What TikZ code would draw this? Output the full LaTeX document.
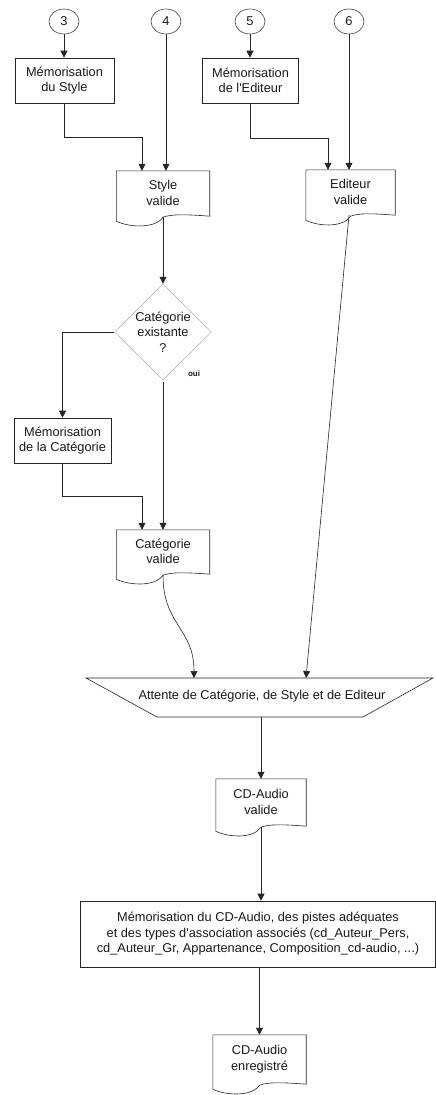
\documentclass[tikz,border=0pt]{standalone}
\usepackage{fontspec}
\setmainfont{Liberation Sans}
\usetikzlibrary{shapes.geometric,arrows.meta,calc}
\newcommand{\docframe}[1]{%
  \draw[line] ([yshift=-6pt]#1.south west) -- (#1.north west) -- (#1.north east) -- ([yshift=-1pt]#1.south east)
    .. controls ([xshift=-25pt,yshift=1pt]#1.south east) and ([xshift=8pt,yshift=1pt]#1.south) .. ([yshift=-2pt]#1.south)
    .. controls ([xshift=-8pt,yshift=-14pt]#1.south) and ([xshift=12pt,yshift=-12pt]#1.south west) .. ([yshift=-6pt]#1.south west);}
\begin{document}
\begin{tikzpicture}[x=1pt,y=-1pt,
  every node/.style={font=\fontsize{12.8}{15.5}\selectfont, align=center, inner sep=0pt, text=black!90},
  line/.style={draw=black!85, line width=0.6pt},
  arr/.style={line, -{Triangle[width=7pt,length=7pt]}},
  proc/.style={draw=black!85, line width=0.6pt, rectangle},
  conn/.style={draw=black!75, line width=0.6pt, ellipse, minimum width=30pt, minimum height=25pt},
  docnode/.style={minimum width=#1, minimum height=44pt},
  dec/.style={draw=black!35, line width=0.5pt, diamond, minimum width=97pt, minimum height=90pt},
]
\useasboundingbox (0,0) rectangle (436,1095);
\fill[white] (0,0) rectangle (436,1095);

% connectors (top)
\node[conn] (c3) at (64,21.5) {3};
\node[conn] (c4) at (166,21.5) {4};
\node[conn] (c5) at (250,21.5) {5};
\node[conn] (c6) at (349,21.5) {6};

\node[proc, minimum width=99pt, minimum height=45pt] (m1) at (64.5,80.5) {Mémorisation\\du Style};
\node[proc, minimum width=96pt, minimum height=45pt] (m2) at (250.5,80.5) {Mémorisation\\de l\textquotesingle Editeur};

\node[docnode=93pt] (sv) at (163,193) {Style\\valide}; \docframe{sv}
\node[docnode=89pt] (ev) at (350.5,192) {Editeur\\valide}; \docframe{ev}

\node[dec] (d) at (163,332) {Catégorie\\existante\\?};
\node[font=\fontsize{8}{9}\selectfont\bfseries] (oui) at (194,374) {oui};

\node[proc, minimum width=97pt, minimum height=45pt] (m3) at (62.5,440.5) {Mémorisation\\de la Catégorie};

\node[docnode=93pt, minimum height=43pt] (cv) at (163,551.5) {Catégorie\\valide}; \docframe{cv}

\node (t) at (262,696) {Attente de Catégorie, de Style et de Editeur};
\coordinate (tN) at (261,678);
\coordinate (tS) at (261,717);
\draw[line] (86,678) -- (433,678) -- (363,717) -- (157,717) -- cycle;
\coordinate (tA) at ([xshift=-67pt]tN);
\coordinate (tB) at ([xshift=45pt]tN);

\node[docnode=90pt, minimum height=46pt] (cdv) at (261,802) {CD-Audio\\valide}; \docframe{cdv}

\node[proc, minimum width=355pt, minimum height=66pt] (b) at (258,934)
  {Mémorisation du CD-Audio, des pistes adéquates\\et des types d\textquotesingle association associés (cd\_Auteur\_Pers,\\cd\_Auteur\_Gr, Appartenance, Composition\_cd-audio, ...)};

\node[docnode=93pt, minimum height=48pt] (cde) at (259.5,1059) {CD-Audio\\enregistré}; \docframe{cde}

% connectors
\draw[arr] (c3.south) -- (c3.south |- m1.north);
\draw[arr] (m1.south) -- ++(0,34) -| ([xshift=-21pt]sv.north);
\draw[arr] (c4.south) -- (c4.south |- sv.north);
\draw[arr] (c5.south) -- (c5.south |- m2.north);
\draw[arr] (m2.south) -- ++(0,35) -| ([xshift=-22.5pt]ev.north);
\draw[arr] (c6.south) -- (c6.south |- ev.north);
\draw[arr] ([yshift=-2pt]sv.south) -- (d.north);
\draw[arr] (d.west) -| (m3.north);
\draw[arr] ([yshift=-2pt]d.south) -- (d.south |- cv.north);
\draw[arr] (m3.south) -- ++(0,33) -| ([xshift=-21pt]cv.north);
\draw[arr] ([yshift=-2pt]cv.south) .. controls +(0,50) and +(0,-50) .. (tA);
\draw[arr] ([xshift=-1.5pt,yshift=-1pt]ev.south) -- (tB);
\draw[arr] (tS) -- (tS |- cdv.north);
\draw[arr] ([yshift=-2pt]cdv.south) -- (cdv.south |- b.north);
\draw[arr] (b.south -| cde.north) -- (cde.north);
\end{tikzpicture}
\end{document}
